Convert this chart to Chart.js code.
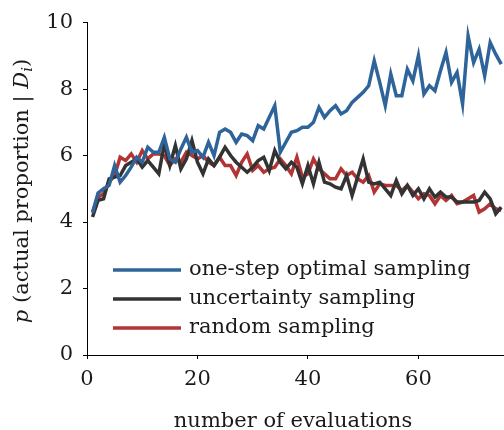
<!DOCTYPE html>
<html><head><meta charset="utf-8">
<script src="https://cdn.jsdelivr.net/npm/chart.js@4"></script>
<style>html,body{margin:0;padding:0;background:#fff;overflow:hidden}</style>
</head><body>
<canvas id="c" width="504" height="430"></canvas>
<script>
const evaluations = [1,2,3,4,5,6,7,8,9,10,11,12,13,14,15,16,17,18,19,20,21,22,23,24,25,26,27,28,29,30,31,32,33,34,35,36,37,38,39,40,41,42,43,44,45,46,47,48,49,50,51,52,53,54,55,56,57,58,59,60,61,62,63,64,65,66,67,68,69,70,71,72,73,74,75];
const optimalSampling = [4.28,4.87,5.0,5.1,5.7,5.2,5.4,5.65,5.95,5.8,6.25,6.1,6.1,6.55,5.9,5.8,6.2,6.55,6.1,6.15,5.95,6.4,6.0,6.7,6.8,6.7,6.4,6.65,6.6,6.45,6.9,6.8,7.15,7.5,6.1,6.4,6.7,6.75,6.85,6.85,7.0,7.45,7.15,7.35,7.5,7.25,7.35,7.6,7.75,7.9,8.1,8.85,8.2,7.5,8.45,7.8,7.8,8.6,8.25,9.0,7.85,8.1,7.95,8.55,9.1,8.2,8.5,7.55,9.6,8.8,9.2,8.4,9.4,9.05,8.75];
const uncertaintySampling = [4.15,4.65,4.7,5.3,5.35,5.4,5.7,5.8,5.9,5.65,5.85,5.65,5.45,6.35,5.7,6.3,5.6,5.9,6.45,5.8,5.45,5.9,5.7,5.95,6.25,6.0,5.8,5.65,5.5,5.65,5.85,5.95,5.55,6.15,5.8,5.6,5.8,5.65,5.15,5.7,5.15,5.8,5.2,5.15,5.05,5.0,5.4,4.8,5.35,5.9,5.2,5.15,5.2,5.0,4.8,5.25,4.85,5.1,4.8,5.0,4.7,5.0,4.75,4.9,4.75,4.75,4.6,4.6,4.6,4.6,4.65,4.9,4.7,4.25,4.45];
const randomSampling = [4.3,4.75,4.85,5.2,5.4,5.95,5.85,6.05,5.8,6.15,5.9,6.05,6.05,6.0,5.7,5.9,5.8,6.1,6.0,5.9,6.0,5.8,5.7,5.95,5.7,5.7,5.4,5.8,6.05,5.55,5.7,5.5,5.6,5.65,5.9,5.7,5.45,5.95,5.35,5.45,5.9,5.6,5.45,5.3,5.3,5.6,5.4,5.5,5.3,5.2,5.4,4.9,5.15,5.1,5.1,5.1,4.95,5.1,4.9,4.7,4.85,4.8,4.55,4.8,4.65,4.8,4.55,4.6,4.7,4.8,4.3,4.4,4.55,4.4,4.35];
const seriesLabels = ['one-step optimal sampling', 'uncertainty sampling', 'random sampling'];
const seriesColors = ['#2e6499', '#333333', '#b33434'];
const xTickValues = [0, 20, 40, 60];
const yTickValues = [0, 2, 4, 6, 8, 10];
const xTitle = 'number of evaluations';

const FONT = '"DejaVu Serif", "Liberation Serif", serif';
const FS = 21;
const LEGEND_FS = 21;

function pts(vals){ return evaluations.map((x,i)=>({x:x, y:vals[i]})); }

const legendPlugin = {
  id: 'insetLegend',
  afterDraw(chart){
    const ctx = chart.ctx;
    ctx.save();
    chart.data.datasets.forEach((ds,i)=>{
      const y = 270 + i*29;
      ctx.strokeStyle = ds.borderColor;
      ctx.lineWidth = 3.5;
      ctx.lineCap = 'butt';
      ctx.beginPath(); ctx.moveTo(113,y); ctx.lineTo(181,y); ctx.stroke();
      ctx.fillStyle = '#1a1a1a';
      ctx.font = LEGEND_FS + 'px ' + FONT;
      ctx.textBaseline = 'alphabetic';
      ctx.textAlign = 'left';
      ctx.fillText(ds.label, 189, y + 5);
    });
    ctx.restore();
  }
};

const titlesPlugin = {
  id: 'axisTitles',
  afterDraw(chart){
    const ctx = chart.ctx;
    ctx.save();
    ctx.fillStyle = '#1a1a1a';
    ctx.font = FS + 'px ' + FONT;
    ctx.textAlign = 'center';
    ctx.textBaseline = 'alphabetic';
    ctx.fillText(xTitle, 293, 427);
    const parts = [
      {t:'p', f:'italic ' + FS + 'px ' + FONT, dy:0},
      {t:' (actual proportion | ', f:FS + 'px ' + FONT, dy:0},
      {t:'D', f:'italic ' + FS + 'px ' + FONT, dy:0},
      {t:'i', f:'italic ' + Math.round(FS*0.7) + 'px ' + FONT, dy:4},
      {t:')', f:FS + 'px ' + FONT, dy:0}
    ];
    let total = 0;
    parts.forEach(p=>{ ctx.font = p.f; p.w = ctx.measureText(p.t).width; total += p.w; });
    ctx.translate(28, 191);
    ctx.rotate(-Math.PI/2);
    ctx.textAlign = 'left';
    let x = -total/2;
    parts.forEach(p=>{ ctx.font = p.f; ctx.fillText(p.t, x, p.dy); x += p.w; });
    ctx.restore();
  }
};

new Chart(document.getElementById('c'), {
  type: 'line',
  data: {
    datasets: [
      {label: seriesLabels[0], data: pts(optimalSampling), borderColor: seriesColors[0]},
      {label: seriesLabels[1], data: pts(uncertaintySampling), borderColor: seriesColors[1]},
      {label: seriesLabels[2], data: pts(randomSampling), borderColor: seriesColors[2]}
    ]
  },
  options: {
    responsive: false,
    devicePixelRatio: 1,
    animation: false,
    layout: {padding: {top: 17, right: 0, left: 0, bottom: 0}},
    elements: {
      line: {borderWidth: 3.5, tension: 0, fill: false, borderJoinStyle: 'miter', borderCapStyle: 'butt'},
      point: {radius: 0, hoverRadius: 0}
    },
    plugins: {legend: {display: false}, tooltip: {enabled: false}},
    scales: {
      x: {
        type: 'linear', min: 0, max: 75.5,
        afterBuildTicks: s => { s.ticks = xTickValues.map(v=>({value:v})); },
        afterFit: s => { s.height = 75; },
        grid: {display: true, drawOnChartArea: false, drawTicks: true, tickLength: 4, color: '#000', lineWidth: 1},
        border: {display: true, color: '#000', width: 1},
        ticks: {color: '#1a1a1a', font: {family: FONT, size: FS}, padding: 8, maxRotation: 0}
      },
      y: {
        type: 'linear', min: 0, max: 10,
        afterBuildTicks: s => { s.ticks = yTickValues.map(v=>({value:v})); },
        afterFit: s => { s.width = 87; },
        grid: {display: true, drawOnChartArea: false, drawTicks: true, tickLength: 4, color: '#000', lineWidth: 1},
        border: {display: true, color: '#000', width: 1},
        ticks: {color: '#1a1a1a', font: {family: FONT, size: FS}, padding: 10}
      }
    }
  },
  plugins: [legendPlugin, titlesPlugin]
});
</script>
</body></html>
